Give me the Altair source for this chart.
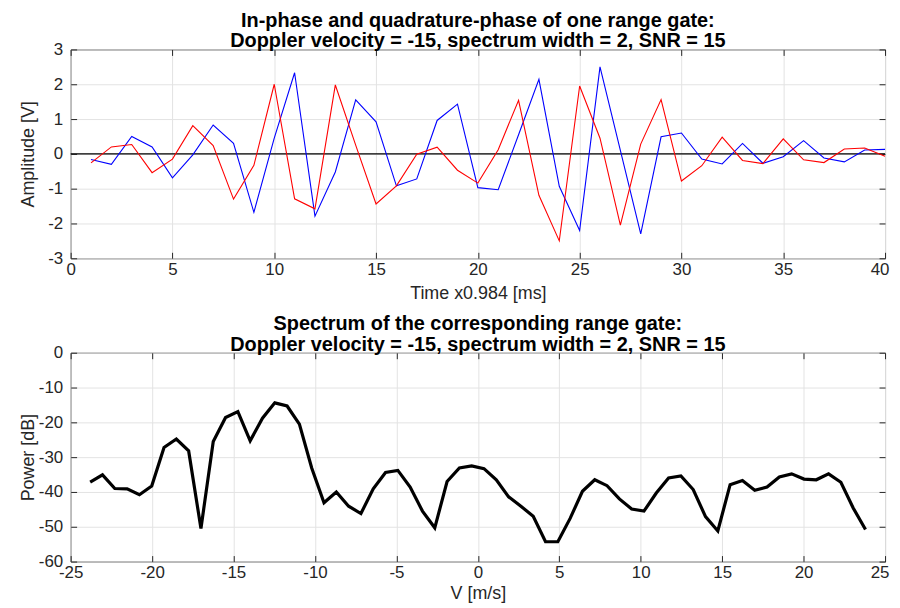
import altair as alt
import pandas as pd
import numpy as np

FONT = "Liberation Sans"
TXT = "#262626"

# ---- data ----
time_idx = list(range(1, 41))
i_amp = [-0.16, -0.30, 0.50, 0.20, -0.69, -0.03, 0.83, 0.30, -1.68, 0.45,
         2.33, -1.79, -0.52, 1.55, 0.92, -0.92, -0.72, 0.96, 1.43, -0.97,
         -1.03, 0.55, 2.14, -0.93, -2.20, 2.50, 0.10, -2.30, 0.49, 0.60,
         -0.15, -0.29, 0.30, -0.27, -0.08, 0.38, -0.12, -0.23, 0.11, 0.13]
q_amp = [-0.26, 0.20, 0.27, -0.54, -0.15, 0.81, 0.24, -1.30, -0.33, 2.00,
         -1.29, -1.58, 1.98, 0.25, -1.44, -0.92, -0.01, 0.19, -0.47, -0.84,
         0.12, 1.54, -1.19, -2.50, 1.95, 0.45, -2.05, 0.28, 1.56, -0.78,
         -0.34, 0.48, -0.19, -0.28, 0.43, -0.17, -0.25, 0.14, 0.17, -0.07]

vel_first, vel_last, n_bins = -23.8, 23.8, 64
power_db = [-37.2, -35.1, -39.0, -39.1, -40.8, -38.3, -27.2, -24.8, -28.2, -50.5,
            -25.5, -18.6, -16.9, -25.3, -18.8, -14.4, -15.3, -20.5, -33.1, -43.1,
            -40.0, -44.1, -46.2, -39.1, -34.4, -33.8, -38.6, -45.5, -50.3, -37.0,
            -33.1, -32.5, -33.3, -36.5, -41.4, -44.1, -47.0, -54.3, -54.3, -47.6,
            -39.8, -36.5, -38.2, -42.0, -44.9, -45.5, -40.3, -36.0, -35.4, -39.3,
            -47.1, -51.2, -37.9, -36.7, -39.5, -38.6, -35.7, -34.8, -36.3, -36.5,
            -34.8, -37.2, -44.6, -50.8]

t_ticks = list(range(0, 41, 5))
amp_ticks = list(range(-3, 4))
v_ticks = list(range(-25, 26, 5))
db_ticks = list(range(-60, 1, 10))

title_top = ["In-phase and quadrature-phase of one range gate:",
             "Doppler velocity = -15, spectrum width = 2, SNR = 15"]
title_bot = ["Spectrum of the corresponding range gate:",
             "Doppler velocity = -15, spectrum width = 2, SNR = 15"]

df_iq = pd.DataFrame({
    "t": time_idx + time_idx,
    "amp": i_amp + q_amp,
    "ch": ["I"] * len(time_idx) + ["Q"] * len(time_idx),
})
# zero reference line spanning the whole time axis
df_zero = pd.DataFrame({"t0": [t_ticks[0]], "t1": [t_ticks[-1]], "z": [0]})
df_sp = pd.DataFrame({"v": np.linspace(vel_first, vel_last, n_bins), "p": power_db})

W, H = 819, 210
lab = "'' + datum.value"
INWARD = {"expr": "-6"}


def xaxis(values, title, ty, last):
    return alt.Axis(values=values, title=title, grid=True, ticks=True, tickSize=INWARD,
                    tickColor=TXT, domain=False, labelPadding=9, labelExpr=lab,
                    titleY=ty, labelOverlap=False,
                    labelAlign=alt.condition(f"datum.value == {last}",
                                             alt.value("right"), alt.value("center")),
                    labelOffset=alt.condition(f"datum.value == {last}",
                                              alt.value(4), alt.value(0)))


def yaxis(values, title):
    return alt.Axis(values=values, title=title, grid=True, ticks=True, tickSize=INWARD,
                    tickColor=TXT, domain=False, labelPadding=14, labelExpr=lab,
                    titleX=-33, labelOverlap=False)


def mirror(values, orient):
    return alt.Axis(values=values, orient=orient, title=None, labels=False, grid=False,
                    domain=False, ticks=True, tickSize=INWARD, tickColor=TXT)


def ttl(text):
    return alt.TitleParams(text=text, fontSize=20, fontWeight="bold", font=FONT,
                           color="black", offset=-11, lineHeight=21, anchor="middle")


t_scale = alt.Scale(domain=[0, 40], nice=False)
a_scale = alt.Scale(domain=[-3, 3], nice=False)
v_scale = alt.Scale(domain=[-25, 25], nice=False)
p_scale = alt.Scale(domain=[-60, 0], nice=False)

lines = alt.Chart(df_iq).mark_line(strokeWidth=1.1).encode(
    x=alt.X("t:Q", scale=t_scale, axis=xaxis(t_ticks, "Time x0.984 [ms]", 26, 40)),
    y=alt.Y("amp:Q", scale=a_scale, axis=yaxis(amp_ticks, "Amplitude [V]")),
    color=alt.Color("ch:N", scale=alt.Scale(domain=["I", "Q"], range=["#0000ff", "#ff0000"]),
                    legend=None),
)
zero = alt.Chart(df_zero).mark_rule(color="black", strokeWidth=1.2).encode(
    x=alt.X("t0:Q", scale=t_scale, axis=mirror(t_ticks, "top")),
    x2="t1:Q",
    y=alt.Y("z:Q", scale=a_scale, axis=mirror(amp_ticks, "right")),
)

top = alt.layer(zero, lines).resolve_axis(x="independent", y="independent").properties(
    width=W, height=H, title=ttl(title_top))

spec = alt.Chart(df_sp).mark_line(strokeWidth=3.2, color="black").encode(
    x=alt.X("v:Q", scale=v_scale, axis=xaxis(v_ticks, "V [m/s]", 23, 25)),
    y=alt.Y("p:Q", scale=p_scale, axis=yaxis(db_ticks, "Power [dB]")),
)
ghost = alt.Chart(df_sp).mark_point(opacity=0).encode(
    x=alt.X("v:Q", scale=v_scale, axis=mirror(v_ticks, "top")),
    y=alt.Y("p:Q", scale=p_scale, axis=mirror(db_ticks, "right")),
)
bot = alt.layer(spec, ghost).resolve_axis(x="independent", y="independent").properties(
    width=W, height=H, title=ttl(title_bot))

chart = alt.vconcat(top, bot, spacing=10).properties(
    padding={"left": 11, "top": 0, "right": 2, "bottom": 0},
    background="white",
).configure_view(
    stroke=TXT, strokeWidth=1,
).configure_axis(
    labelFont=FONT, titleFont=FONT, labelFontSize=17, titleFontSize=18,
    labelColor=TXT, titleColor=TXT, titleFontWeight="normal",
    gridColor="#e3e3e3", gridWidth=1,
)

chart.save("out.html", embed_options={"renderer": "svg", "actions": False})
